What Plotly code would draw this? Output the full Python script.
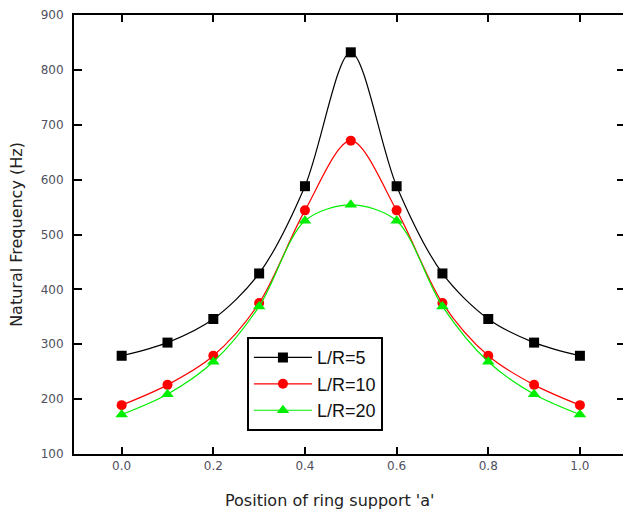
import plotly.graph_objects as go

positions = [0.0, 0.1, 0.2, 0.3, 0.4, 0.5, 0.6, 0.7, 0.8, 0.9, 1.0]
freq_lr5 = [279, 303, 346, 429, 588, 832, 588, 429, 346, 303, 279]
freq_lr10 = [189, 226, 279, 375, 544, 671, 544, 375, 279, 226, 189]
freq_lr20 = [172, 209, 268, 369, 525, 554, 525, 369, 268, 209, 172]
series_names = ["L/R=5", "L/R=10", "L/R=20"]
x_ticks = [0.0, 0.2, 0.4, 0.6, 0.8, 1.0]
x_tick_labels = ["0.0", "0.2", "0.4", "0.6", "0.8", "1.0"]
y_ticks = [100, 200, 300, 400, 500, 600, 700, 800, 900]

styles = [
    dict(color="black", symbol="square", size=10),
    dict(color="red", symbol="circle", size=10),
    dict(color="#00ee00", symbol="triangle-up", size=11),
]

fig = go.Figure()
for name, ys, st in zip(series_names, [freq_lr5, freq_lr10, freq_lr20], styles):
    fig.add_trace(go.Scatter(
        x=positions, y=ys, name=name, mode="lines+markers",
        line=dict(color=st["color"], width=1.2, shape="spline", smoothing=0.9),
        marker=dict(color=st["color"], symbol=st["symbol"], size=st["size"]),
    ))

# invisible trace to carry a right-side axis with inward ticks
fig.add_trace(go.Scatter(x=[positions[0]], y=[y_ticks[0]], yaxis="y2",
                         mode="markers", marker=dict(opacity=0),
                         showlegend=False, hoverinfo="skip"))

tick_font = dict(family="DejaVu Sans, sans-serif", size=12, color="#505060")
title_font = dict(family="DejaVu Sans, sans-serif", size=16, color="#222")

fig.update_layout(
    width=623, height=518,
    margin=dict(l=74, r=0, t=15, b=64),
    paper_bgcolor="white", plot_bgcolor="white",
    showlegend=True,
    legend=dict(
        x=0.315, y=0.266, xanchor="left", yanchor="top",
        bordercolor="black", borderwidth=2, bgcolor="white",
        font=dict(family="Arial, Liberation Sans, sans-serif", size=18, color="#111"),
        itemwidth=58, tracegroupgap=4,
    ),
    xaxis=dict(
        range=[-0.104, 1.094], tickvals=x_ticks, ticktext=x_tick_labels,
        ticks="inside", ticklen=7, tickwidth=1.5, tickcolor="black",
        showline=True, linecolor="black", linewidth=2, mirror="ticks",
        showgrid=False, zeroline=False, tickfont=tick_font,
    ),
    yaxis=dict(
        range=[100, 900], tickvals=y_ticks,
        ticks="inside", ticklen=8, tickwidth=1.5, tickcolor="black",
        showline=True, linecolor="black", linewidth=2, mirror=False,
        showgrid=False, zeroline=False, tickfont=tick_font,
        ticklabelstandoff=6,
        title=dict(text="Natural Frequency (Hz)", font=title_font, standoff=14),
    ),
    yaxis2=dict(
        overlaying="y", side="right", range=[100, 900], tickvals=y_ticks,
        ticks="inside", ticklen=6, tickwidth=1.5, tickcolor="black",
        showticklabels=False, showline=False, showgrid=False, zeroline=False,
    ),
    annotations=[dict(
        text="Position of ring support 'a'", xref="paper", yref="paper",
        x=0.4645, y=-0.105, xanchor="center", yanchor="middle",
        showarrow=False, font=title_font,
    )],
)

fig.write_html("out.html")
